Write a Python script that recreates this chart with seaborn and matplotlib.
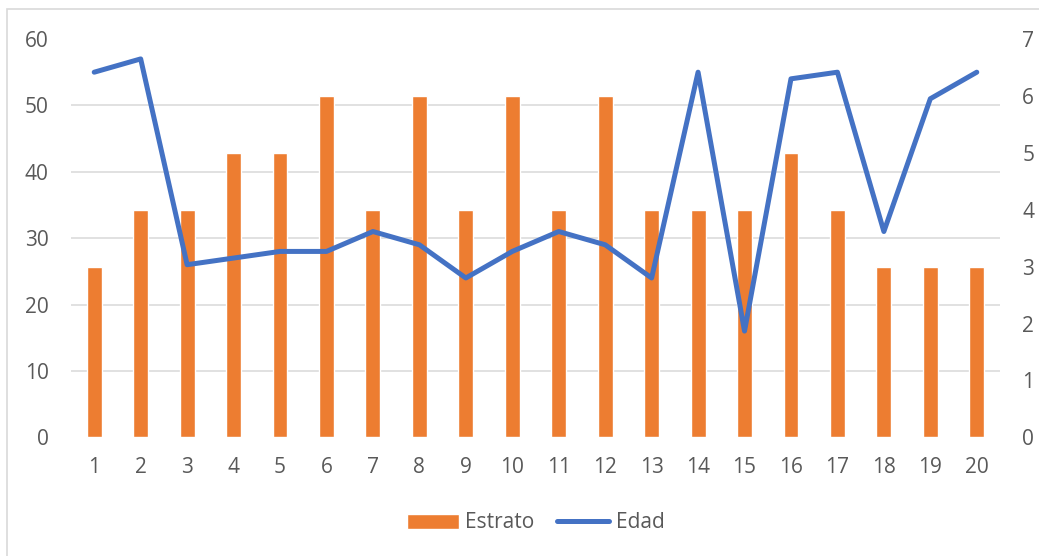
import numpy as np
import pandas as pd
import matplotlib
matplotlib.use("Agg")
import matplotlib.pyplot as plt
import seaborn as sns
from matplotlib.patches import Rectangle

# Data
casos = list(range(1, 21))
estrato = [3, 4, 4, 5, 5, 6, 4, 6, 4, 6, 4, 6, 4, 4, 4, 5, 4, 3, 3, 3]
edad = [55, 57, 26, 27, 28, 28, 31, 29, 24, 28, 31, 29, 24, 55, 16, 54, 55, 31, 51, 55]
ticks_edad = [0, 10, 20, 30, 40, 50, 60]
ticks_estrato = [0, 1, 2, 3, 4, 5, 6, 7]

sns.set_theme(style="white")
plt.rcParams["font.family"] = ["Open Sans", "DejaVu Sans"]

TEXT = "#595959"
GRID = "#D9D9D9"
ORANGE = "#ED7D31"
BLUE = "#4472C4"
W, H = 1039, 556

df = pd.DataFrame({"Caso": casos, "Estrato": estrato, "Edad": edad})

fig = plt.figure(figsize=(W / 100, H / 100), dpi=100)
ax = fig.add_axes([71 / W, 1 - 437.3 / H, (1000 - 71) / W, (437.3 - 39) / H])

# Bars: Estrato on the right-hand scale
sns.barplot(data=df, x="Caso", y="Estrato", native_scale=True, width=0.32,
            color=ORANGE, saturation=1, ax=ax, label="Estrato", zorder=2)
ax.set_xlim(0.5, 20.5)
ax.set_ylim(0, 7)
ax.set_xticks(casos)
ax.set_xticklabels([str(c) for c in casos])
ax.set_yticks(ticks_estrato)
# horizontal gridlines follow the Edad scale (0-60 by 10)
ax.set_yticks(np.array(ticks_edad) * 7 / 60, minor=True)
ax.grid(False)
ax.grid(which="minor", axis="y", color=GRID, lw=1.1)
ax.set_axisbelow(True)
ax.set_xlabel("")
ax.set_ylabel("")
for s in ax.spines.values():
    s.set_visible(False)

# Line: Edad on the left-hand scale
ax2 = ax.twinx()
sns.lineplot(data=df, x="Caso", y="Edad", ax=ax2, color=BLUE, linewidth=3.6,
             label="Edad", solid_capstyle="round", solid_joinstyle="round",
             legend=False)
ax2.set_ylim(0, 60)
ax2.set_yticks(ticks_edad)
ax2.set_ylabel("")
ax2.set_xlabel("")
ax2.grid(False)
for s in ax2.spines.values():
    s.set_visible(False)

# Edad ticks on the left, Estrato ticks on the right
ax.yaxis.tick_right()
ax.yaxis.set_label_position("right")
ax2.yaxis.tick_left()
ax2.yaxis.set_label_position("left")
ax.tick_params(axis="y", which="both", length=0, pad=16, labelsize=15, labelcolor=TEXT,
               left=False, labelleft=False, right=True, labelright=True)
ax.tick_params(axis="y", which="minor", labelright=False)
ax.tick_params(axis="x", length=0, pad=14, labelsize=15, labelcolor=TEXT)
ax2.tick_params(axis="y", length=0, pad=16, labelsize=15, labelcolor=TEXT,
                right=False, labelright=False, left=True, labelleft=True)

if ax.get_legend() is not None:
    ax.get_legend().remove()
if ax2.get_legend() is not None:
    ax2.get_legend().remove()

h1, l1 = ax.get_legend_handles_labels()
h2, l2 = ax2.get_legend_handles_labels()
fig.legend(h1 + h2, l1 + l2, loc="center", bbox_to_anchor=(535.5 / W, 1 - 523 / H),
           ncol=2, frameon=False, fontsize=15, handlelength=2.5, handletextpad=0.3,
           columnspacing=1.1, labelcolor=TEXT)

# chart area border
fig.patches.append(Rectangle((7 / W, -0.1), 1.2, 1 - 9 / H + 0.1, transform=fig.transFigure,
                             fill=False, ec=GRID, lw=1.2))

fig.savefig("out.png", dpi=100)
